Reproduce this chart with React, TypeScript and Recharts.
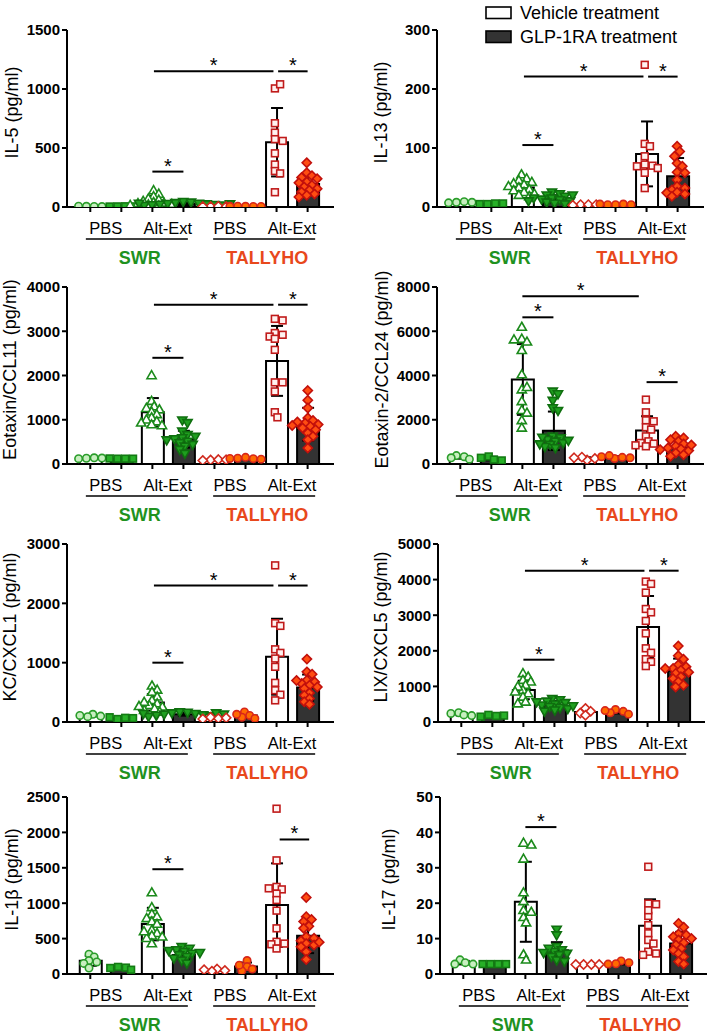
import React from 'react'
import {
  ComposedChart,
  Bar,
  Cell,
  ErrorBar,
  Scatter,
  XAxis,
  YAxis,
  ReferenceLine
} from 'recharts'

// group order: SWR PBS veh, SWR PBS GLP, SWR Alt veh, SWR Alt GLP,
//              TALLYHO PBS veh, TALLYHO PBS GLP, TALLYHO Alt veh, TALLYHO Alt GLP
const CATEGORY_LABELS = ['PBS', 'Alt-Ext', 'PBS', 'Alt-Ext']
const STRAINS = ['SWR', 'TALLYHO']
const TREATMENTS = ['Vehicle treatment', 'GLP-1RA treatment']

const BAR_TICKS = [0, 1, 2, 3, 4, 5, 6, 7]
const CATEGORY_TICKS = [0.5, 2.5, 4.5, 6.5]
const STRAIN_TICKS = [1.5, 5.6]

// IL-5
const IL5_POINTS = [
  [6, 5, 7, 4],
  [5, 6, 4, 5],
  [140, 110, 90, 70, 60, 50, 40, 35, 30, 25, 20, 15, 10],
  [45, 40, 35, 30, 28, 25, 22, 20, 18, 15, 12, 30, 25],
  [5, 6, 4, 5],
  [6, 5, 7, 5, 6],
  [1005, 1040, 710, 630, 575, 560, 455, 360, 305, 285, 125],
  [375, 290, 265, 250, 240, 212, 205, 185, 170, 155, 142, 127, 110, 100, 85]
]
const IL5_MEANS = [5, 5, 55, 27, 5, 6, 549, 194]
const IL5_SDS = [1, 1, 40, 10, 1, 1, 290, 80]
const IL5_TICKS = [0, 500, 1000, 1500]
const IL5_SIG = [[2.05, 5.9, 1150], [6.05, 7, 1150], [2, 3, 300]]

// IL-13
const IL13_POINTS = [
  [8, 9, 7, 8],
  [5, 6, 5, 6],
  [55, 48, 45, 42, 40, 38, 35, 33, 30, 28, 25, 22, 20, 18],
  [25, 22, 20, 18, 15, 13, 12, 10, 8, 6, 5, 15, 20, 10],
  [4, 4, 3, 4],
  [4, 5, 4, 4, 5],
  [241, 107, 103, 86, 72, 70, 69, 66, 58, 32],
  [103, 94, 86, 74, 69, 59, 58, 46, 35, 32, 29, 25, 24, 22, 18]
]
const IL13_MEANS = [8, 5.5, 33, 14, 4, 4.4, 90, 52]
const IL13_SDS = [1, 0.5, 11, 6, 0.5, 0.5, 55, 31]
const IL13_TICKS = [0, 100, 200, 300]
const IL13_SIG = [[2.05, 5.9, 221], [6.05, 7, 221], [2, 3, 105]]

// Eotaxin/CCL11
const CCL11_POINTS = [
  [130, 140, 120, 135],
  [120, 120, 125, 120],
  [2000, 1420, 1300, 1260, 1230, 1180, 1120, 1050, 1000, 960, 930, 890, 870],
  [990, 930, 740, 660, 590, 565, 510, 475, 440, 400, 325, 235, 620, 540],
  [90, 100, 80, 95],
  [150, 120, 130, 110, 125],
  [3280, 3245, 2960, 2920, 2880, 2830, 2580, 1845, 1845, 1640, 1170, 1055],
  [1660, 1440, 1265, 1040, 985, 925, 890, 850, 815, 775, 700, 625, 550, 360, 950, 870]
]
const CCL11_MEANS = [131, 121, 1170, 560, 91, 127, 2330, 900]
const CCL11_SDS = [10, 5, 320, 190, 10, 15, 790, 370]
const CCL11_TICKS = [0, 1000, 2000, 3000, 4000]
const CCL11_SIG = [[2.05, 5.9, 3600], [6.05, 7, 3600], [2, 3, 2400]]

// Eotaxin-2/CCL24
const CCL24_POINTS = [
  [380, 330, 280, 220],
  [340, 200, 280, 160],
  [6190, 5650, 5520, 5620, 5140, 4040, 3360, 3470, 2830, 2430, 2310, 1970, 1630],
  [3285, 3165, 2865, 2530, 2410, 1250, 1175, 1100, 1025, 950, 875, 725, 1200, 1060, 780, 900],
  [180, 250, 310, 280],
  [250, 300, 380, 330, 280],
  [2910, 2335, 1975, 1930, 1660, 1555, 1250, 1025, 950, 920, 845, 800],
  [1250, 1175, 1100, 1025, 905, 800, 725, 680, 605, 500, 420, 350, 650, 860]
]
const CCL24_MEANS = [300, 245, 3820, 1500, 255, 308, 1510, 750]
const CCL24_SDS = [60, 80, 1600, 870, 50, 50, 650, 280]
const CCL24_TICKS = [0, 2000, 4000, 6000, 8000]
const CCL24_SIG = [[2, 5.75, 7580], [2, 3, 6630], [6, 7, 3700]]

// KC/CXCL1
const CXCL1_POINTS = [
  [130, 100, 90, 110],
  [50, 70, 80, 65],
  [610, 540, 505, 425, 365, 310, 280, 255, 225, 200, 170, 335, 265],
  [170, 160, 150, 140, 130, 120, 110, 100, 90, 150, 140, 130],
  [80, 60, 50, 70],
  [170, 110, 80, 60, 130],
  [2640, 1665, 1620, 1225, 1165, 1070, 930, 660, 535, 460, 365],
  [1060, 845, 805, 705, 675, 650, 620, 565, 490, 450, 395, 340, 300, 590, 700]
]
const CXCL1_MEANS = [108, 66, 330, 132, 65, 110, 1100, 580]
const CXCL1_SDS = [15, 12, 140, 25, 12, 40, 640, 220]
const CXCL1_TICKS = [0, 1000, 2000, 3000]
const CXCL1_SIG = [[2.05, 5.9, 2300], [6.05, 7, 2300], [2, 3, 1000]]

// LIX/CXCL5
const CXCL5_POINTS = [
  [260, 200, 240, 180],
  [200, 170, 150, 180],
  [1365, 1270, 1175, 1130, 1035, 895, 800, 705, 565, 515, 990, 850],
  [650, 620, 580, 540, 500, 470, 430, 400, 370, 330, 300, 560, 450],
  [380, 300, 250, 190],
  [350, 300, 260, 220, 320],
  [3945, 3880, 3635, 3175, 3080, 2840, 2490, 2070, 1945, 1765, 1690, 1570],
  [2135, 1860, 1765, 1600, 1550, 1505, 1455, 1365, 1270, 1220, 1130, 1035, 985, 1500, 1400]
]
const CXCL5_MEANS = [220, 175, 900, 478, 280, 290, 2670, 1440]
const CXCL5_SDS = [35, 20, 260, 110, 70, 50, 870, 340]
const CXCL5_TICKS = [0, 1000, 2000, 3000, 4000, 5000]
const CXCL5_SIG = [[2.05, 5.9, 4250], [6.05, 7, 4250], [2, 3, 1750]]

// IL-1b
const IL1B_POINTS = [
  [280, 240, 190, 170, 150, 85],
  [100, 90, 85, 60],
  [1150, 940, 845, 810, 785, 740, 705, 620, 575, 540, 505, 430, 525, 600],
  [385, 360, 340, 315, 290, 270, 245, 220, 190, 150, 330, 300],
  [70, 50, 40, 60],
  [190, 105, 70, 45, 125],
  [2335, 1605, 1230, 1195, 1135, 1045, 895, 645, 455, 430, 420, 360, 1210],
  [1080, 810, 770, 740, 675, 645, 525, 505, 470, 430, 410, 385, 315, 205, 450]
]
const IL1B_MEANS = [186, 84, 705, 270, 55, 107, 973, 540]
const IL1B_SDS = [70, 18, 230, 65, 13, 55, 590, 245]
const IL1B_TICKS = [0, 500, 1000, 1500, 2000, 2500]
const IL1B_SIG = [[2, 3, 1480], [6.1, 7.05, 1900]]

// IL-17
const IL17_POINTS = [
  [4, 3.2, 2.8, 2.8],
  [2.8, 2.8, 2.8, 2.8],
  [37, 36.5, 32.5, 23, 20.5, 18, 17.5, 16, 14.5, 5.5, 4],
  [12.6, 11, 7.7, 6.8, 6.3, 5.8, 5.4, 4.9, 3.9, 3.5, 7.2, 6],
  [2.7, 2.7, 2.7, 2.7],
  [3.7, 3.2, 2.9, 2.8],
  [30.3, 19.9, 19.7, 16.4, 13.8, 11.5, 9.6, 8.6, 6.3, 5.8, 5.4, 18],
  [14.3, 13.2, 11.3, 11, 10.5, 9.6, 8.8, 8.2, 7.2, 6.8, 5.8, 4.9, 3.5, 2.8, 10]
]
const IL17_MEANS = [3.2, 2.8, 20.4, 6.7, 2.7, 3.1, 13.6, 8.6]
const IL17_SDS = [0.5, 0.1, 11.3, 2.3, 0.1, 0.4, 7.5, 3.3]
const IL17_TICKS = [0, 10, 20, 30, 40, 50]
const IL17_SIG = [[2, 3, 41.5]]

const PANELS = [
  { title: 'IL-5 (pg/ml)', points: IL5_POINTS, means: IL5_MEANS, sds: IL5_SDS, ticks: IL5_TICKS, sig: IL5_SIG },
  { title: 'IL-13 (pg/ml)', points: IL13_POINTS, means: IL13_MEANS, sds: IL13_SDS, ticks: IL13_TICKS, sig: IL13_SIG },
  { title: 'Eotaxin/CCL11 (pg/ml)', points: CCL11_POINTS, means: CCL11_MEANS, sds: CCL11_SDS, ticks: CCL11_TICKS, sig: CCL11_SIG },
  { title: 'Eotaxin-2/CCL24 (pg/ml)', points: CCL24_POINTS, means: CCL24_MEANS, sds: CCL24_SDS, ticks: CCL24_TICKS, sig: CCL24_SIG },
  { title: 'KC/CXCL1 (pg/ml)', points: CXCL1_POINTS, means: CXCL1_MEANS, sds: CXCL1_SDS, ticks: CXCL1_TICKS, sig: CXCL1_SIG },
  { title: 'LIX/CXCL5 (pg/ml)', points: CXCL5_POINTS, means: CXCL5_MEANS, sds: CXCL5_SDS, ticks: CXCL5_TICKS, sig: CXCL5_SIG },
  { title: 'IL-1β (pg/ml)', points: IL1B_POINTS, means: IL1B_MEANS, sds: IL1B_SDS, ticks: IL1B_TICKS, sig: IL1B_SIG },
  { title: 'IL-17 (pg/ml)', points: IL17_POINTS, means: IL17_MEANS, sds: IL17_SDS, ticks: IL17_TICKS, sig: IL17_SIG }
]

// layout (pixels)
const ROW_TOP = [30, 287, 544, 797]
const ROW_H = [177, 177, 178, 177]
const COL_LEFT = [0, 355]
const AXIS_X = [67, 437, 67, 437, 67, 438, 67, 440]
const TITLE_X = [12, 26, 10, 27, 10, 26, 12, 34]
const PLOT_W = 267
const X_DOMAIN = [-0.75, 7.85]
const PX_X = PLOT_W / (X_DOMAIN[1] - X_DOMAIN[0])
// band axis padding so that band centres sit on the numeric positions 0..7
const BAND_PAD = { left: (-0.5 - X_DOMAIN[0]) * PX_X, right: (X_DOMAIN[1] - 7.5) * PX_X }

const FONT = '"Liberation Sans", Arial, sans-serif'
const STRAIN_COLORS = ['#1f921f', '#e8481c']
const BAR_FILLS = ['#ffffff', '#333333']

const MARKERS = [
  { kind: 'circle', fill: '#c8efc0', stroke: '#2a9d2a' },
  { kind: 'square', fill: '#27b027', stroke: '#137a13' },
  { kind: 'triangle', fill: '#ffffff', stroke: '#1b8a1b' },
  { kind: 'invtriangle', fill: '#1f9f1f', stroke: '#0f6f0f' },
  { kind: 'diamond', fill: '#ffffff', stroke: '#d02a1e' },
  { kind: 'circle', fill: '#ff6a00', stroke: '#d8261a' },
  { kind: 'square', fill: '#fff2f0', stroke: '#c01a1a' },
  { kind: 'diamond', fill: '#ff4d12', stroke: '#c2100c' }
]

// simple beeswarm: spread colliding points sideways (pixel space)
const swarm = (values: number[], pxPerUnitY: number) => {
  const placed: { x: number; y: number }[] = []
  const D = 5.5
  const offs = values.map((v) => {
    const y = v * pxPerUnitY
    for (let k = 0; k < 40; k++) {
      const o = (k % 2 === 1 ? 1 : -1) * Math.ceil(k / 2) * 2.6
      if (placed.every((p) => (p.x - o) ** 2 + (p.y - y) ** 2 >= D * D)) {
        placed.push({ x: o, y })
        return o
      }
    }
    placed.push({ x: 0, y })
    return 0
  })
  const mean = offs.reduce((a, b) => a + b, 0) / offs.length
  return offs.map((o) => (o - mean) / PX_X)
}

const Marker = ({ kind, fill, stroke, cx, cy }: any) => {
  if (cx == null || cy == null) return null
  const common = { fill, stroke, strokeWidth: 1.6 }
  switch (kind) {
    case 'circle':
      return <circle cx={cx} cy={cy} r={3.7} {...common} />
    case 'square':
      return <rect x={cx - 3.4} y={cy - 3.4} width={6.8} height={6.8} {...common} />
    case 'triangle':
      return <polygon points={`${cx},${cy - 4.8} ${cx + 4.6},${cy + 3.2} ${cx - 4.6},${cy + 3.2}`} {...common} />
    case 'invtriangle':
      return <polygon points={`${cx},${cy + 4.8} ${cx + 4.6},${cy - 3.2} ${cx - 4.6},${cy - 3.2}`} {...common} />
    default:
      return <polygon points={`${cx},${cy - 4.6} ${cx + 4.6},${cy} ${cx},${cy + 4.6} ${cx - 4.6},${cy}`} {...common} />
  }
}

const CategoryTick = ({ x, y, index }: any) => (
  <text x={x} y={y + 21} textAnchor="middle" fontSize={16.5} fill="#000" fontFamily={FONT}>
    {CATEGORY_LABELS[index]}
  </text>
)

const StrainTick = ({ x, y, index }: any) => (
  <g>
    <line x1={x - 51} x2={x + 51} y1={y} y2={y} stroke="#000" strokeWidth={1.5} />
    <text x={x + 3} y={y + 25} textAnchor="middle" fontSize={18} fontWeight={700} fill={STRAIN_COLORS[index]} fontFamily={FONT}>
      {STRAINS[index]}
    </text>
  </g>
)

const Star = (props: any) => {
  const vb = props.viewBox || {}
  const cx = (vb.x ?? 0) + (vb.width ?? 0) / 2
  return (
    <text x={cx} y={(vb.y ?? 0) + 1} textAnchor="middle" fontSize={20} fill="#000" fontFamily={FONT}>
      *
    </text>
  )
}

const Panel = ({ idx }: { idx: number }) => {
  const panel = PANELS[idx]
  const row = Math.floor(idx / 2)
  const colLeft = COL_LEFT[idx % 2]
  const plotH = ROW_H[row]
  const yAxisW = AXIS_X[idx] - colLeft
  const width = yAxisW + PLOT_W + 8
  const height = 20 + plotH + 72
  const max = panel.ticks[panel.ticks.length - 1]

  const bars = panel.means.map((m, i) => ({ x: i, mean: m, sd: panel.sds[i] }))
  const groups = panel.points.map((vals, g) => {
    const offs = swarm(vals, plotH / max)
    return vals.map((v, j) => ({ x: g + offs[j], y: v }))
  })

  const titleX = TITLE_X[idx]
  const axisStyle = { stroke: '#000', strokeWidth: 2 }

  return (
    <div style={{ position: 'absolute', left: colLeft, top: ROW_TOP[row] - 20 }}>
      <ComposedChart width={width} height={height} data={bars} margin={{ top: 20, right: 8, bottom: 0, left: 0 }}>
        <XAxis
          dataKey="x"
          type="number"
          domain={X_DOMAIN}
          ticks={BAR_TICKS}
          interval={0}
          allowDataOverflow
          height={6}
          tickSize={5}
          tickFormatter={() => ''}
          axisLine={axisStyle}
          tickLine={axisStyle}
        />
        <XAxis xAxisId="band" dataKey="x" type="category" hide height={0} padding={BAND_PAD} />
        <XAxis
          xAxisId="cat"
          dataKey="x"
          type="number"
          domain={X_DOMAIN}
          ticks={CATEGORY_TICKS}
          interval={0}
          allowDataOverflow
          height={26}
          tickSize={0}
          tickMargin={0}
          axisLine={false}
          tickLine={false}
          tick={<CategoryTick />}
        />
        <XAxis
          xAxisId="strain"
          dataKey="x"
          type="number"
          domain={X_DOMAIN}
          ticks={STRAIN_TICKS}
          interval={0}
          allowDataOverflow
          height={40}
          tickSize={0}
          tickMargin={0}
          axisLine={false}
          tickLine={false}
          tick={<StrainTick />}
        />
        <YAxis
          type="number"
          domain={[0, max]}
          ticks={panel.ticks}
          interval={0}
          allowDataOverflow
          width={yAxisW}
          tickSize={5}
          tickMargin={2}
          axisLine={axisStyle}
          tickLine={axisStyle}
          tick={{ fontSize: 15, fontWeight: 700, fill: '#000', fontFamily: FONT }}
          label={(p: any) => {
            const vb = p.viewBox || {}
            const cy = (vb.y ?? 0) + (vb.height ?? 0) / 2 - 6
            return (
              <text
                x={titleX}
                y={cy}
                transform={`rotate(-90 ${titleX} ${cy})`}
                textAnchor="middle"
                dominantBaseline="central"
                fontSize={18}
                fill="#000"
                fontFamily={FONT}
              >
                {panel.title}
              </text>
            )
          }}
        />
        <Bar xAxisId="band" dataKey="mean" barSize={22} stroke="#000" strokeWidth={2} isAnimationActive={false}>
          {bars.map((b, i) => (
            <Cell key={i} fill={BAR_FILLS[i % 2]} />
          ))}
          <ErrorBar dataKey="sd" width={6} stroke="#000" strokeWidth={2} direction="y" />
        </Bar>
        {groups.map((pts, g) => (
          <Scatter
            key={g}
            data={pts}
            dataKey="y"
            isAnimationActive={false}
            shape={(p: any) => <Marker {...MARKERS[g]} cx={p.cx} cy={p.cy} />}
          />
        ))}
        {panel.sig.map(([x1, x2, y], k) => (
          <ReferenceLine
            key={k}
            segment={[{ x: x1, y }, { x: x2, y }]}
            stroke="#000"
            strokeWidth={2}
            label={Star}
          />
        ))}
      </ComposedChart>
    </div>
  )
}

const TreatmentLegend = () => (
  <svg width={709} height={50} style={{ position: 'absolute', left: 0, top: 0, pointerEvents: 'none' }}>
    {TREATMENTS.map((t, i) => (
      <g key={t}>
        <rect x={486} y={7 + i * 24} width={25} height={11.5} fill={BAR_FILLS[i]} stroke="#000" strokeWidth={1.6} />
        <text x={520} y={18.5 + i * 24.5} fontSize={18} fill="#000" fontFamily={FONT}>
          {t}
        </text>
      </g>
    ))}
  </svg>
)

const App = () => (
  <div
    style={{
      position: 'absolute',
      left: 0,
      top: 0,
      width: 709,
      height: 1036,
      background: '#fff',
      fontFamily: FONT,
      overflow: 'hidden'
    }}
  >
    {PANELS.map((_, i) => (
      <Panel key={i} idx={i} />
    ))}
    <TreatmentLegend />
  </div>
)

export default App
